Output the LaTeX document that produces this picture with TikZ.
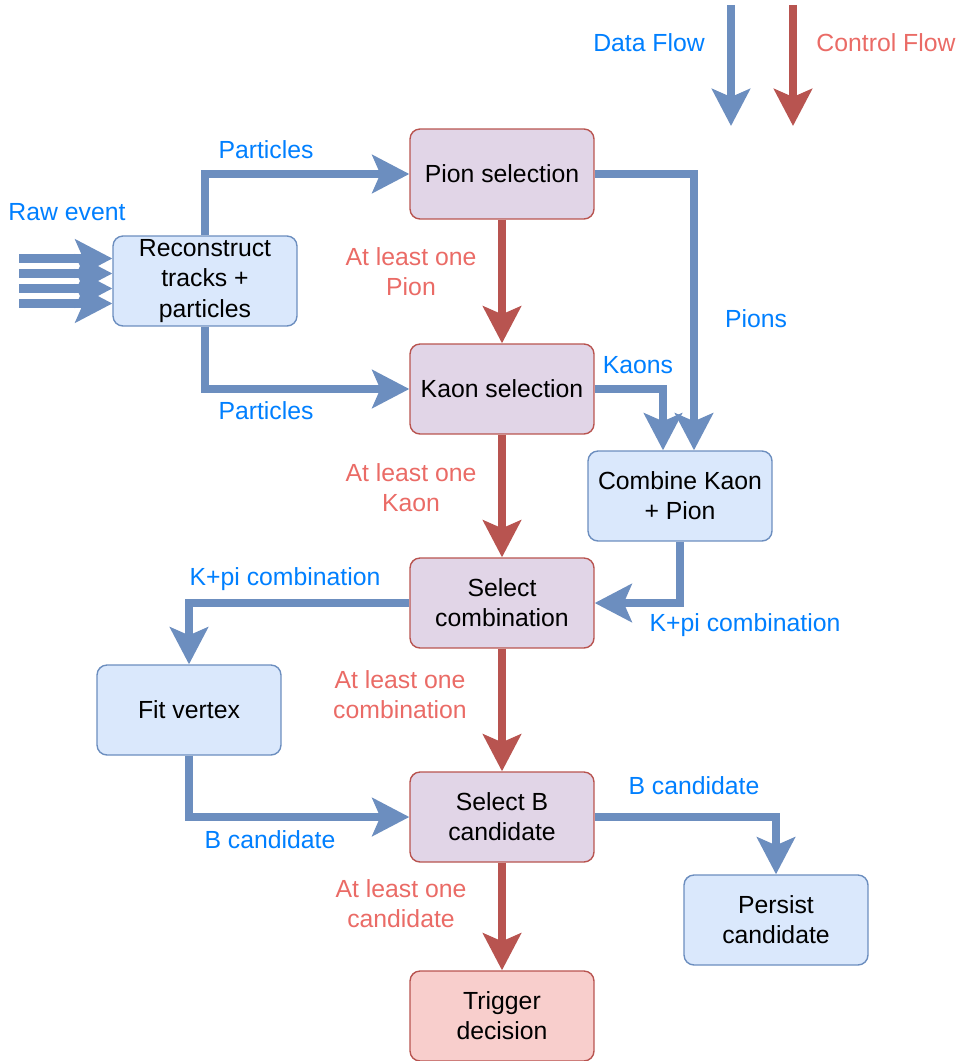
\documentclass[tikz,border=0pt]{standalone}
\usepackage{fontspec}
\setmainfont{Liberation Sans}
\usepackage{tikz}
\usetikzlibrary{arrows.meta,calc,positioning}

\definecolor{dataline}{HTML}{6C8EBF}
\definecolor{ctrlline}{HTML}{B85450}
\definecolor{datatext}{HTML}{007FFF}
\definecolor{ctrltext}{HTML}{EA6B66}
\definecolor{selfill}{HTML}{E1D5E7}
\definecolor{procfill}{HTML}{DAE8FC}
\definecolor{decfill}{HTML}{F8CECC}

\begin{document}
\begin{tikzpicture}[x=0.02cm,y=-0.02cm,
    every node/.style={font=\fontsize{14.1}{17.2}\selectfont, align=center},
    box/.style={rounded corners=0.2cm, minimum width=3.68cm, minimum height=1.8cm, inner sep=2pt, line width=0.8pt},
    selbox/.style={box, draw=ctrlline, fill=selfill},
    procbox/.style={box, draw=dataline, fill=procfill},
    decbox/.style={box, draw=ctrlline, fill=decfill},
    data/.style={draw=dataline, line width=4.8pt, -{Stealth[length=0.74cm, width=0.76cm, inset=0.16cm]}},
    ctrl/.style={draw=ctrlline, line width=4.8pt, -{Stealth[length=0.74cm, width=0.76cm, inset=0.16cm]}},
    dlabel/.style={text=datatext, inner sep=1pt},
    clabel/.style={text=ctrltext, inner sep=1pt}]
    \useasboundingbox (0,0) rectangle (960,1061);

    % legend
    \coordinate (dtop) at (731,5);
    \coordinate (dbot) at (731,126);
    \coordinate (ctop) at (793,5);
    \coordinate (cbot) at (793,126);
    \draw[data] (dtop) -- (dbot);
    \draw[ctrl] (ctop) -- (cbot);
    \node[dlabel] (datalbl) at (649,43) {Data Flow};
    \node[clabel] (ctrllbl) at (886,43) {Control Flow};

    % boxes
    \node[procbox] (reco) at (205,281) {Reconstruct\\tracks +\\particles};
    \node[selbox] (pion) at (502,174) {Pion selection};
    \node[selbox] (kaon) at (502,389) {Kaon selection};
    \node[procbox] (comb) at (680,496) {Combine Kaon\\+ Pion};
    \node[selbox] (selcomb) at (502,603) {Select\\combination};
    \node[procbox] (fit) at (189,710) {Fit vertex};
    \node[selbox] (selb) at (502,817) {Select B\\candidate};
    \node[procbox] (persist) at (776,920) {Persist\\candidate};
    \node[decbox] (trigger) at (502,1016) {Trigger\\decision};

    % raw event input
    \foreach \dy [count=\i] in {-22.5,-7.5,7.5,22.5} {
        \coordinate (raw\i) at ($(reco.west)+(-93,\dy)$);
        \draw[data] (raw\i) -- ($(reco.west)+(0,\dy)$);
    }
    \node[dlabel] (rawlbl) at (67,212) {Raw event};

    % data flow
    \draw[data] (reco.north) |- (pion.west);
    \draw[data] (reco.south) |- (kaon.west);
    \draw[data] (pion.east) -| ($(comb.north)+(14,0)$);
    \draw[data] (kaon.east) -| ($(comb.north)+(-17,0)$);
    \draw[data] (comb.south) |- (selcomb.east);
    \draw[data] (selcomb.west) -| (fit.north);
    \draw[data] (fit.south) |- (selb.west);
    \draw[data] (selb.east) -| (persist.north);

    \node[dlabel] (partlbl1) at (266,150) {Particles};
    \node[dlabel] (partlbl2) at (266,411) {Particles};
    \node[dlabel] (pionlbl) at (756,319) {Pions};
    \node[dlabel] (kaonlbl) at (638,365) {Kaons};
    \node[dlabel] (kpilbl1) at (285,579) {K+pi combination};
    \node[dlabel] (kpilbl2) at (745,625) {K+pi combination};
    \node[dlabel] (bcandlbl1) at (270,840) {B candidate};
    \node[dlabel] (bcandlbl2) at (694,786) {B candidate};

    % control flow
    \draw[ctrl] (pion) -- (kaon);
    \draw[ctrl] (kaon) -- (selcomb);
    \draw[ctrl] (selcomb) -- (selb);
    \draw[ctrl] (selb) -- (trigger);

    \node[clabel] (atpion) at (411,272) {At least one\\Pion};
    \node[clabel] (atkaon) at (411,488) {At least one\\Kaon};
    \node[clabel] (atcomb) at (400,695) {At least one\\combination};
    \node[clabel] (atcand) at (401,904) {At least one\\candidate};
\end{tikzpicture}
\end{document}
